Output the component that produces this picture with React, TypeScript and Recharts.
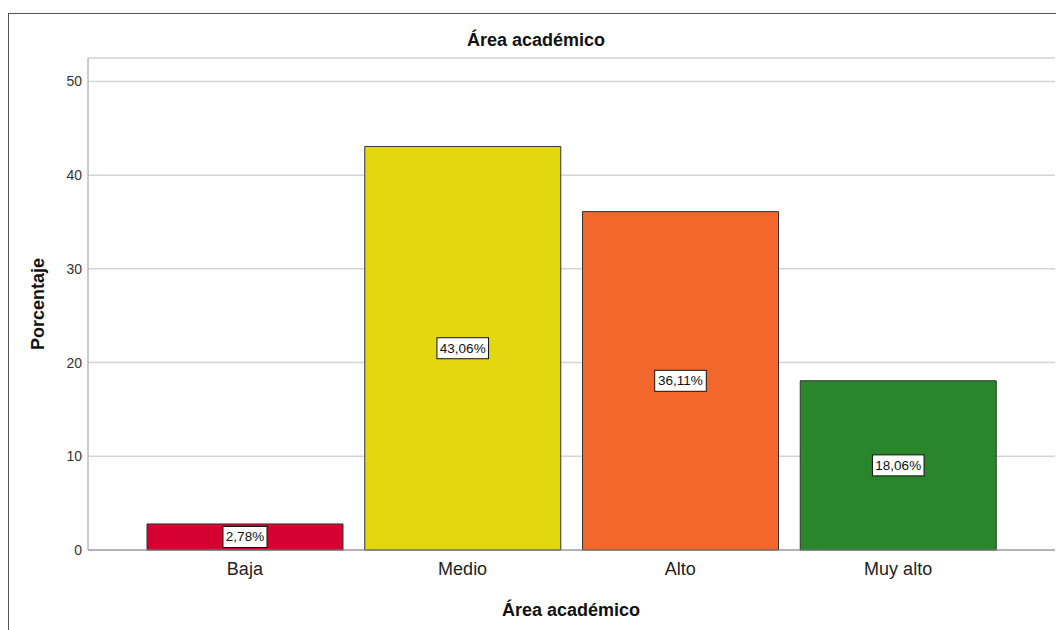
import React from 'react';
import {BarChart,Bar,Cell,XAxis,YAxis,CartesianGrid,LabelList,Label} from 'recharts';

const categories=['Baja','Medio','Alto','Muy alto'];
const percents=[2.78,43.06,36.11,18.06];
const barColors=['#D60030','#E3D80E','#F2672C','#2A862A'];
const yTicks=[0,10,20,30,40,50];

const data=categories.map((c,i)=>({name:c,value:percents[i]}));
const font='"Liberation Sans", Arial, sans-serif';
const fmt=(v:number)=>v.toFixed(2).replace('.',',')+'%';

// white boxed value label in the middle of each bar
const BoxLabel=(p:any)=>{
  const{x,y,width,height,value}=p;
  const t=fmt(value);
  const w=t.length*7.6+6, h=21;
  const cx=x+width/2, cy=y+height/2;
  return(
    <g>
      <rect x={cx-w/2} y={cy-h/2} width={w} height={h} fill="#fff" stroke="#111" strokeWidth={1}/>
      <text x={cx} y={cy} textAnchor="middle" dominantBaseline="central" fontSize={13.5} fontFamily={font} fill="#111">{t}</text>
    </g>
  );
};

export default function App(){
  return(
    <div style={{position:'absolute',left:0,top:0,width:1056,height:630,background:'#fff',overflow:'hidden'}}>
      <div style={{position:'absolute',left:8,top:13,right:-5,bottom:-5,borderLeft:'1px solid #555',borderTop:'1px solid #555'}}/>
      <div style={{position:'absolute',left:0,width:1072,top:30,textAlign:'center',fontFamily:font,fontWeight:'bold',fontSize:18,color:'#111'}}>Área académico</div>
      <div style={{position:'absolute',left:0,top:0}}>
        <BarChart width={1056} height={630} data={data} margin={{top:58,right:1,bottom:10,left:48}}>
          <CartesianGrid vertical={false} stroke="#d4d4d4" strokeWidth={1.5}/>
          <XAxis dataKey="name" height={70} padding={{left:48,right:48}} tickLine={false} tickSize={0} tickMargin={12} stroke="#888" tick={{fontSize:18,fill:'#222',fontFamily:font}} interval={0}>
            <Label content={(pr:any)=>(<text x={571} y={616} textAnchor="middle" fontSize={18} fontWeight="bold" fontFamily={font} fill="#111">Área académico</text>)}/>
          </XAxis>
          <YAxis width={40} domain={[0,52.5]} ticks={yTicks} tickLine={false} tickSize={0} tickMargin={6} stroke="#999" tick={{fontSize:14,fill:'#333',fontFamily:font}}>
            <Label content={(pr:any)=>(<text x={38} y={304} transform="rotate(-90 38 304)" textAnchor="middle" dominantBaseline="central" fontSize={18} fontWeight="bold" fontFamily={font} fill="#111">Porcentaje</text>)}/>
          </YAxis>
          <Bar dataKey="value" barSize={196} stroke="#333" strokeWidth={1} isAnimationActive={false}>
            {data.map((d,i)=><Cell key={i} fill={barColors[i]}/>)}
            <LabelList dataKey="value" content={BoxLabel}/>
          </Bar>
        </BarChart>
      </div>
    </div>
  );
}
